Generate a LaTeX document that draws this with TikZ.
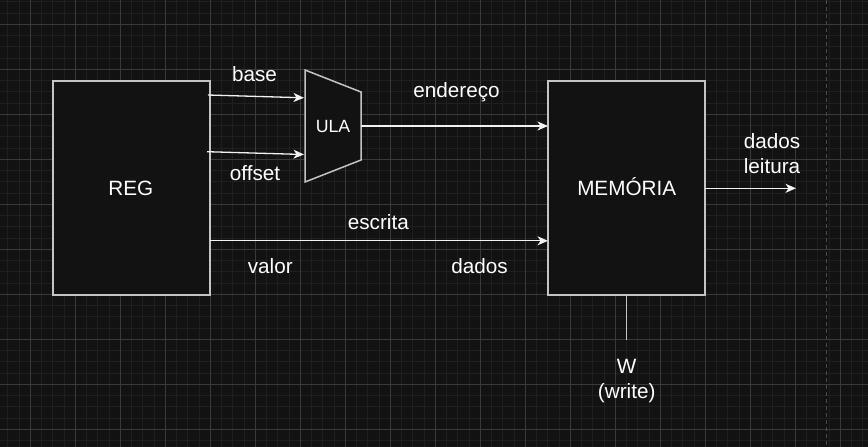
\documentclass[tikz,border=0pt]{standalone}
\usepackage{fontspec}
\setmainfont{Liberation Sans}
\usetikzlibrary{arrows.meta}
\definecolor{bgc}{HTML}{121212}
\definecolor{minorc}{HTML}{1F1F1F}
\definecolor{majorc}{HTML}{3A3A3A}
\definecolor{boxc}{HTML}{C4C4C4}
\definecolor{linec}{HTML}{F2F2F2}
\definecolor{pagec}{HTML}{4A4A4A}
\tikzset{
  x=1pt, y=-1pt,
  minorgrid/.style={draw=minorc, line width=0.9pt},
  majorgrid/.style={draw=majorc, line width=1pt},
  blockbox/.style={draw=boxc, fill=bgc, line width=2pt, rectangle, inner sep=0pt},
  lbl/.style={text=white, inner sep=0pt, anchor=base, font=\fontsize{20.7}{24}\selectfont},
  smalllbl/.style={text=white, inner sep=0pt, anchor=base, font=\fontsize{17.7}{21}\selectfont},
  conn/.style={draw=linec, line width=1.3pt, -{Stealth[length=10.5pt,width=9pt,inset=3pt]}},
  plainconn/.style={draw=boxc, line width=1.5pt},
}
\begin{document}
\begin{tikzpicture}
\useasboundingbox (0,0) rectangle (868,447);
\fill[bgc] (0,0) rectangle (868,447);
% grid
\foreach \k in {0,...,77} {
  \pgfmathsetmacro\xx{30.3+11.25*(\k-2)}
  \draw[minorgrid] (\xx,0) -- (\xx,447);
}
\foreach \k in {0,...,40} {
  \pgfmathsetmacro\yy{24.3+11.25*(\k-2)}
  \draw[minorgrid] (0,\yy) -- (868,\yy);
}
\foreach \k in {0,...,19} {
  \pgfmathsetmacro\xx{30.3+45*\k}
  \draw[majorgrid] (\xx,0) -- (\xx,447);
}
\foreach \k in {0,...,9} {
  \pgfmathsetmacro\yy{24.3+45*\k}
  \draw[majorgrid] (0,\yy) -- (868,\yy);
}
\draw[draw=pagec, line width=1pt, dash pattern=on 4pt off 3pt] (826,0) -- (826,447);

% blocks
\node[blockbox, minimum width=157pt, minimum height=214pt] (reg) at (131.5,188) {};
\node[blockbox, minimum width=157pt, minimum height=214pt] (mem) at (626.5,188) {};
\coordinate (ulaTL) at (305,70);
\coordinate (ulaTR) at (361,92);
\coordinate (ulaBR) at (361,160);
\coordinate (ulaBL) at (305,182);
\filldraw[draw=boxc, fill=bgc, line width=1.5pt, line join=miter] (ulaTL) -- (ulaTR) -- (ulaBR) -- (ulaBL) -- cycle;

\node[lbl] (regt) at (130.8,195) {REG};
\node[lbl] (memt) at (626.7,195) {MEMÓRIA};
\node[smalllbl] (ulat) at (333,132.7) {ULA};

% connector points
\coordinate (baseS) at (208,95);
\coordinate (baseE) at (304,97.8);
\coordinate (offS) at (207,151.7);
\coordinate (offE) at (304,154.5);
\coordinate (ulaOut) at (361,126);
\coordinate (memIn1) at (548,126);
\coordinate (escS) at (210,240.8);
\coordinate (memIn2) at (548,240.8);
\coordinate (memOut) at (705,188.3);
\coordinate (readE) at (796,188.3);
\coordinate (wS) at (626.7,295);
\coordinate (wE) at (626.7,339.5);

\draw[conn] (baseS) -- (baseE);
\draw[conn] (offS) -- (offE);
\draw[conn] (ulaOut) -- (memIn1);
\draw[conn] (escS) -- (memIn2);
\draw[conn] (memOut) -- (readE);
\draw[plainconn] (wS) -- (wE);

% labels
\node[lbl] (lbase) at (254.5,81.7) {base};
\node[lbl] (loff) at (255,180) {offset};
\node[lbl] (lend) at (456.5,97.6) {endereço};
\node[lbl] (lesc) at (378.3,229) {escrita};
\node[lbl] (lval) at (270.3,273.3) {valor};
\node[lbl] (ldad) at (479.5,273.3) {dados};
\node[lbl] (lrd1) at (772,148.7) {dados};
\node[lbl] (lrd2) at (772,173.3) {leitura};
\node[lbl] (lw1) at (626.7,373.3) {W};
\node[lbl] (lw2) at (626.7,398) {(write)};
\end{tikzpicture}
\end{document}
